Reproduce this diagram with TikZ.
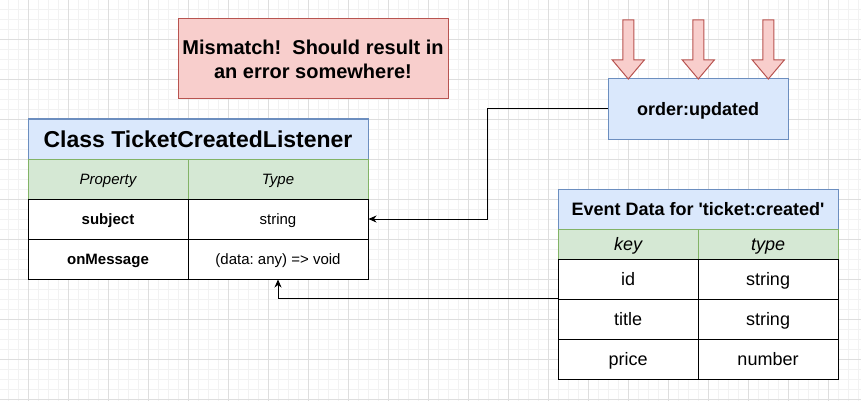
\documentclass[tikz,border=0pt]{standalone}
\usepackage{fontspec}
\setmainfont{Liberation Sans}
\usetikzlibrary{arrows.meta}

\definecolor{bluefill}{HTML}{DAE8FC}
\definecolor{bluedraw}{HTML}{6C8EBF}
\definecolor{greenfill}{HTML}{D5E8D4}
\definecolor{greendraw}{HTML}{82B366}
\definecolor{redfill}{HTML}{F8CECC}
\definecolor{reddraw}{HTML}{B85450}

\begin{document}
\begin{tikzpicture}[x=1pt,y=-1pt,line width=1pt,
  minorline/.style={line width=0.8pt,black!5},
  majorline/.style={line width=0.8pt,black!13},
  box/.style={inner sep=0pt,text height=0.9*#1,text depth=0.2*#1,font=\fontsize{#1}{#1}\selectfont},
  titlecell/.style={box=#1,draw=bluedraw,fill=bluefill,minimum height=40,execute at begin node=\bfseries},
  headcell/.style={box=#1,draw=greendraw,fill=greenfill,execute at begin node=\itshape},
  cell/.style={box=#1,draw=black,fill=white,minimum height=40},
  boldcell/.style={cell=#1,execute at begin node=\bfseries},
  conn/.style={-{Stealth[length=8pt,width=7pt,inset=2.5pt]}},
  downarrow/.style={draw=reddraw,fill=redfill,line join=miter}]
\useasboundingbox (0,0) rectangle (861,401);
\fill[white] (0,0) rectangle (861,401);

\foreach \x in {8,18,...,858} \draw[minorline] (\x,0) -- (\x,401);
\foreach \y in {9,19,...,399} \draw[minorline] (0,\y) -- (861,\y);
\foreach \x in {28,68,...,828} \draw[majorline] (\x,0) -- (\x,401);
\foreach \y in {39,79,...,399} \draw[majorline] (0,\y) -- (861,\y);

\frenchspacing
\node[draw=reddraw,fill=redfill,minimum width=270,minimum height=80,align=center,
  font=\fontsize{20}{24}\selectfont\bfseries] (mismatch) at (313,59)
  {Mismatch!\ \ Should result in\\an error somewhere!};

\node[box=18,draw=bluedraw,fill=bluefill,minimum width=180,minimum height=60,
  execute at begin node=\bfseries] (updated) at (698,109) {order:updated};

\foreach \c in {628.3,698.3,768.3}
  \draw[downarrow] (\c-5.5,20) -- (\c+5.5,20) -- (\c+5.5,60) -- (\c+16,60)
    -- (\c,79) -- (\c-16,60) -- (\c-5.5,60) -- cycle;

% class table
\node[titlecell=23,minimum width=340] (clstitle) at (198,139) {Class TicketCreatedListener};
\node[headcell=15,minimum width=160,minimum height=40] (clsprop) at (108,179) {Property};
\node[headcell=15,minimum width=180,minimum height=40] (clstype) at (278,179) {Type};
\node[boldcell=15,minimum width=160] (subjname) at (108,219) {subject};
\node[cell=15,minimum width=180] (subjtype) at (278,219) {string};
\node[boldcell=15,minimum width=160] (msgname) at (108,259) {onMessage};
\node[cell=15,minimum width=180] (msgtype) at (278,259) {(data: any) => void};

% event table
\node[titlecell=18,minimum width=280] (evtitle) at (698,209) {Event Data for \textquotesingle ticket:created\textquotesingle};
\node[headcell=18,minimum width=140,minimum height=30] (evkey) at (628,244) {key};
\node[headcell=18,minimum width=140,minimum height=30] (evtype) at (768,244) {type};
\node[cell=18,minimum width=140] (idkey) at (628,279) {id};
\node[cell=18,minimum width=140] (idtype) at (768,279) {string};
\node[cell=18,minimum width=140] (titlekey) at (628,319) {title};
\node[cell=18,minimum width=140] (titletype) at (768,319) {string};
\node[cell=18,minimum width=140] (pricekey) at (628,359) {price};
\node[cell=18,minimum width=140] (pricetype) at (768,359) {number};

\draw[conn] (updated.west) -- ++(-120,0) |- (subjtype.east);
\draw[conn] (titlekey.north west) -| (msgtype.south);
\end{tikzpicture}
\end{document}
